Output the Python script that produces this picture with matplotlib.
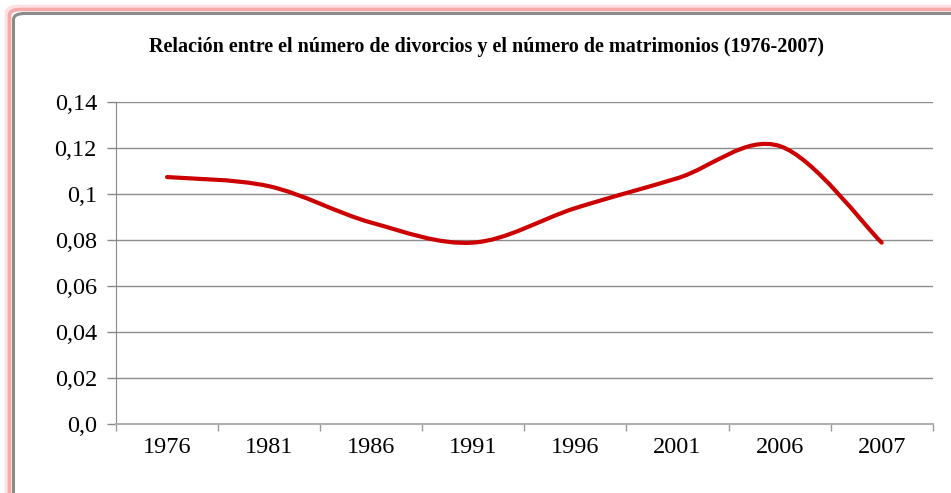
import matplotlib.pyplot as plt
import numpy as np
from matplotlib.path import Path
from matplotlib.patches import PathPatch, FancyBboxPatch

# datos
years = ['1976', '1981', '1986', '1991', '1996', '2001', '2006', '2007']
ratio = [0.1075, 0.1035, 0.0877, 0.0790, 0.0940, 0.1070, 0.1210, 0.0790]
yticks = [0.0, 0.02, 0.04, 0.06, 0.08, 0.10, 0.12, 0.14]
ytick_labels = ['0,0', '0,02', '0,04', '0,06', '0,08', '0,1', '0,12', '0,14']
title = 'Relación entre el número de divorcios y el número de matrimonios (1976-2007)'

plt.rcParams['font.family'] = ['Liberation Serif', 'DejaVu Serif']

fig = plt.figure(figsize=(9.51, 4.93), dpi=100)
W, H = 951, 493


def marco(off, color, lw, z):
    # rectangulo redondeado en pixeles, cortado a la derecha y abajo
    p = FancyBboxPatch((off / W, -0.2), 1.3, (H - off) / H + 0.2,
                       boxstyle='round,pad=0,rounding_size=0.012',
                       transform=fig.transFigure, fill=False,
                       edgecolor=color, linewidth=lw, zorder=z)
    fig.patches.append(p)


# sombra rosa y borde gris (estilo Excel)
marco(7.5, '#fde0e0', 4.0, 0)
marco(9.5, '#f7a8a8', 2.6, 1)
marco(13.5, '#8a8a8a', 2.2, 2)

ax = fig.add_axes([116 / W, 1 - 424.3 / H, (932.7 - 116) / W, (424.3 - 102.3) / H])

# curva suavizada (Bezier tipo Catmull-Rom, como "linea suavizada" de Excel)
x = np.arange(len(ratio), dtype=float)
y = np.array(ratio)
pts = np.column_stack([x, y])
verts = [pts[0]]
codes = [Path.MOVETO]
n = len(pts)
for i in range(n - 1):
    p0 = pts[max(i - 1, 0)]
    p1 = pts[i]
    p2 = pts[i + 1]
    p3 = pts[min(i + 2, n - 1)]
    verts += [p1 + (p2 - p0) / 6, p2 - (p3 - p1) / 6, p2]
    codes += [Path.CURVE4] * 3
ax.add_patch(PathPatch(Path(verts, codes), facecolor='none', edgecolor='#cc0000',
                       linewidth=3, capstyle='round', zorder=3))

ax.set_xlim(-0.5, len(years) - 0.5)
ax.set_ylim(0, 0.14)
ax.set_yticks(yticks)
ax.set_yticklabels(ytick_labels)
ax.set_xticks(np.arange(-0.5, len(years)))
ax.set_xticklabels([])
ax.set_xticks(x, minor=True)
ax.set_xticklabels(years, minor=True)
ax.tick_params(axis='x', which='major', length=5, width=1, color='#999999', direction='out')
ax.tick_params(axis='x', which='minor', length=0, pad=9, labelsize=17.5)
ax.tick_params(axis='y', length=6.7, width=1, color='#888888', labelsize=17.5, pad=7)

ax.grid(axis='y', color='#8c8c8c', linewidth=1)
ax.set_axisbelow(True)
for s in ['top', 'right']:
    ax.spines[s].set_visible(False)
ax.spines['left'].set_color('#888888')
ax.spines['bottom'].set_color('#b0b0b0')
ax.spines['bottom'].set_linewidth(1.5)

fig.text(486 / W, 1 - 47 / H, title, ha='center', va='center', fontsize=14.5, fontweight='bold')

fig.savefig('out.png', dpi=100)
